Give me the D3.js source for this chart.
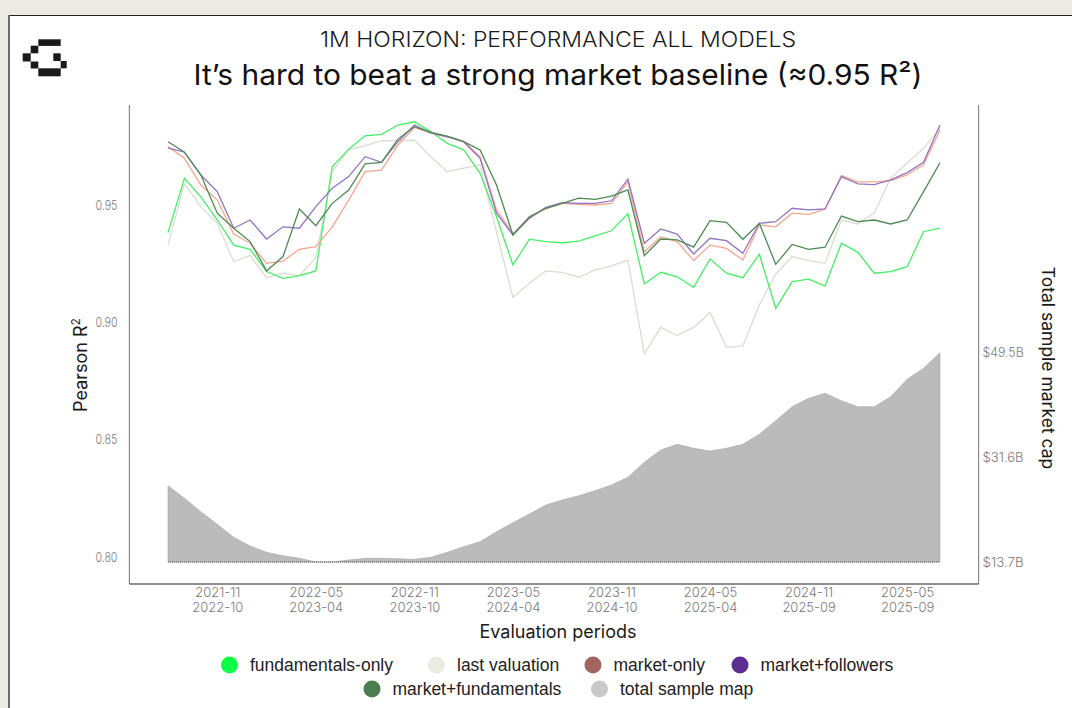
<!DOCTYPE html>
<html>
<head>
<meta charset="utf-8">
<script src="https://cdn.jsdelivr.net/npm/d3@7"></script>
<style>
  html, body { margin: 0; padding: 0; background: #EBEAE4; }
  svg { display: block; }
</style>
</head>
<body>
<svg id="chart" width="1072" height="708"></svg>
<script>
// ---------------- DATA ----------------
const periods = ["2021-08","2021-09","2021-10","2021-11","2021-12","2022-01","2022-02","2022-03","2022-04","2022-05","2022-06","2022-07",
  "2022-08","2022-09","2022-10","2022-11","2022-12","2023-01","2023-02","2023-03","2023-04","2023-05","2023-06","2023-07",
  "2023-08","2023-09","2023-10","2023-11","2023-12","2024-01","2024-02","2024-03","2024-04","2024-05","2024-06","2024-07",
  "2024-08","2024-09","2024-10","2024-11","2024-12","2025-01","2025-02","2025-03","2025-04","2025-05","2025-06","2025-07"];

const tickStarts = ["2021-11","2022-05","2022-11","2023-05","2023-11","2024-05","2024-11","2025-05"];
const tickEnds   = ["2022-10","2023-04","2023-10","2024-04","2024-10","2025-04","2025-09","2025-09"];

const fundamentalsOnly = [0.9382,0.9614,0.9535,0.9436,0.9329,0.9311,0.9216,0.9187,0.9199,0.9219,0.9663,0.9738,
  0.9795,0.9801,0.9841,0.9855,0.9813,0.9763,0.9735,0.9635,0.9450,0.9244,0.9354,0.9344,
  0.9339,0.9346,0.9368,0.9390,0.9462,0.9163,0.9213,0.9194,0.9149,0.9270,0.9209,0.9190,
  0.9290,0.9059,0.9173,0.9184,0.9155,0.9337,0.9298,0.9209,0.9216,0.9237,0.9386,0.9401];

const lastValuation = [0.9329,0.9590,0.9493,0.9422,0.9258,0.9284,0.9190,0.9209,0.9199,0.9275,0.9642,0.9735,
  0.9753,0.9774,0.9773,0.9777,0.9706,0.9642,0.9657,0.9671,0.9386,0.9106,0.9166,0.9219,
  0.9213,0.9192,0.9223,0.9240,0.9265,0.8865,0.8978,0.8943,0.8978,0.9042,0.8893,0.8899,
  0.9074,0.9206,0.9280,0.9263,0.9251,0.9436,0.9419,0.9467,0.9614,0.9679,0.9742,0.9828];

const marketOnly = [0.9749,0.9699,0.9585,0.9521,0.9376,0.9337,0.9251,0.9261,0.9311,0.9322,0.9407,0.9521,
  0.9642,0.9649,0.9756,0.9831,0.9806,0.9791,0.9770,0.9706,0.9479,0.9379,0.9448,0.9483,
  0.9507,0.9503,0.9500,0.9507,0.9599,0.9301,0.9365,0.9344,0.9263,0.9329,0.9315,0.9265,
  0.9415,0.9407,0.9465,0.9460,0.9482,0.9625,0.9599,0.9599,0.9604,0.9628,0.9671,0.9820];

const marketFollowers = [0.9744,0.9725,0.9628,0.9557,0.9401,0.9436,0.9355,0.9407,0.9401,0.9493,0.9571,0.9621,
  0.9706,0.9682,0.9770,0.9841,0.9808,0.9791,0.9770,0.9699,0.9465,0.9372,0.9443,0.9490,
  0.9510,0.9507,0.9507,0.9518,0.9610,0.9337,0.9398,0.9376,0.9291,0.9358,0.9348,0.9294,
  0.9422,0.9429,0.9486,0.9479,0.9483,0.9621,0.9590,0.9587,0.9607,0.9638,0.9682,0.9841];

const marketFundamentals = [0.9770,0.9725,0.9628,0.9465,0.9401,0.9344,0.9219,0.9280,0.9483,0.9412,0.9507,0.9564,
  0.9675,0.9682,0.9781,0.9834,0.9810,0.9794,0.9770,0.9735,0.9585,0.9372,0.9450,0.9486,
  0.9507,0.9529,0.9524,0.9538,0.9564,0.9284,0.9355,0.9351,0.9320,0.9433,0.9426,0.9354,
  0.9422,0.9247,0.9332,0.9311,0.9320,0.9453,0.9429,0.9436,0.9419,0.9436,0.9557,0.9680];

// total sample market cap, $B
const totalSampleCap = [26.75,24.6,22.3,20.15,17.92,16.44,15.36,14.78,14.33,13.7,13.7,14.04,
  14.33,14.33,14.26,14.16,14.5,15.36,16.32,17.17,18.88,20.42,21.91,23.45,
  24.3,25.04,25.9,26.87,28.19,30.75,32.86,33.83,33.15,32.69,33.15,33.83,
  35.54,37.87,40.26,41.7,42.55,41.29,40.26,40.26,41.97,44.95,46.83,49.5];

const leftTicks = [0.80, 0.85, 0.90, 0.95];
const rightTicks = [13.7, 31.6, 49.5];

const seriesNames = ["fundamentals-only","last valuation","market-only","market+followers","market+fundamentals","total sample map"];
const lineColors = {"fundamentals-only":"#45ef63","last valuation":"#dcdcd5","market-only":"#f7a68e","market+followers":"#9373c4","market+fundamentals":"#4c8b52"};
const legendColors = ["#0aff45","#ebebe4","#a2655f","#5c2e92","#4b7d51","#c9c9c9"];

// ---------------- CHART ----------------
const svg = d3.select("#chart");

// card
svg.append("rect").attr("x", 0).attr("y", 0).attr("width", 1072).attr("height", 708).attr("fill", "#EBEAE4");
svg.append("rect").attr("x", 9).attr("y", 15).attr("width", 1063).attr("height", 693).attr("fill", "#fff");
svg.append("line").attr("x1", 8).attr("x2", 1072).attr("y1", 15.5).attr("y2", 15.5).attr("stroke", "#222").attr("stroke-width", 1.2);
svg.append("line").attr("x1", 9).attr("x2", 9).attr("y1", 15).attr("y2", 708).attr("stroke", "#6a6a66").attr("stroke-width", 2);

// logo (pixel G)
const logo = svg.append("g").attr("fill", "#1a1a1a");
[[38.3,39.3,22.4,6.6],[30.7,45.7,7.6,7.6],[22.7,53.3,8,8.2],[53.3,53.3,7.4,7.7],[60.7,61,6,7.3],[30.7,61.5,7.6,7],[38.3,68.3,22.4,8]]
  .forEach(r => logo.append("rect").attr("x", r[0]).attr("y", r[1]).attr("width", r[2]).attr("height", r[3]));

// titles
svg.append("text").attr("x", 558).attr("y", 46.5).attr("text-anchor", "middle")
  .attr("font-family", "Inter, 'Noto Sans', sans-serif").attr("font-size", 21).attr("font-weight", 300).attr("fill", "#1a1a1a")
  .attr("textLength", 476).attr("lengthAdjust", "spacingAndGlyphs")
  .text("1M HORIZON: PERFORMANCE ALL MODELS");
svg.append("text").attr("x", 558).attr("y", 85).attr("text-anchor", "middle")
  .attr("font-family", "Inter, 'Noto Sans', sans-serif").attr("font-size", 29).attr("font-weight", 400).attr("fill", "#111")
  .attr("textLength", 729).attr("lengthAdjust", "spacingAndGlyphs")
  .text("It\u2019s hard to beat a strong market baseline (\u22480.95 R\u00B2)");

// scales
const idx = d3.range(periods.length);
const x = d3.scaleLinear().domain([-2.35, periods.length - 1 + 2.35]).range([129.4, 978.6]);
const y = d3.scaleLinear().domain([0.78838, 0.99264]).range([584, 105]);
const y2 = d3.scaleLinear().domain([13.7, 49.5]).range([562, 352.7]);

// area
const area = d3.area().x(i => x(i)).y0(y2(d3.min(totalSampleCap))).y1(i => y2(totalSampleCap[i]));
svg.append("path").datum(idx).attr("d", area).attr("fill", "#bbbbbb").attr("stroke", "#a8a8a8").attr("stroke-width", 0.6);
svg.append("line").attr("x1", x(0)).attr("x2", x(periods.length - 1))
  .attr("y1", y2(d3.min(totalSampleCap))).attr("y2", y2(d3.min(totalSampleCap)))
  .attr("stroke", "#555").attr("stroke-width", 1).attr("stroke-dasharray", "1,1");

// lines
const seriesData = [
  ["last valuation", lastValuation],
  ["fundamentals-only", fundamentalsOnly],
  ["market-only", marketOnly],
  ["market+followers", marketFollowers],
  ["market+fundamentals", marketFundamentals]
];
const line = d3.line().x((d, i) => x(i)).y(d => y(d));
seriesData.forEach(([name, vals]) => {
  svg.append("path").datum(vals).attr("d", line).attr("fill", "none")
    .attr("stroke", lineColors[name]).attr("stroke-width", 1.3).attr("stroke-linejoin", "miter");
});

// axes
const tickFont = "Inter, 'Noto Sans', sans-serif";
const yAxis = d3.axisLeft(y).tickValues(leftTicks).tickSize(0).tickPadding(12).tickFormat(d3.format(".2f"));
const gy = svg.append("g").attr("transform", "translate(129.4,0)").call(yAxis);
gy.select(".domain").remove();
gy.selectAll("text").attr("font-family", tickFont).attr("font-size", 13.5).attr("font-weight", 300).attr("fill", "#7a7a7a")
  .attr("textLength", 22).attr("lengthAdjust", "spacingAndGlyphs");
svg.append("line").attr("x1", 129.4).attr("x2", 129.4).attr("y1", 105).attr("y2", 584).attr("stroke", "#8a8a8a").attr("stroke-width", 1.2);

const y2Axis = d3.axisRight(y2).tickValues(rightTicks).tickSize(0).tickPadding(4).tickFormat(d => "$" + d3.format(".1f")(d) + "B");
const gy2 = svg.append("g").attr("transform", "translate(978.6,0)").call(y2Axis);
gy2.select(".domain").remove();
gy2.selectAll("text").attr("font-family", tickFont).attr("font-size", 13).attr("font-weight", 300).attr("fill", "#7a7a7a")
  .attr("textLength", 41).attr("lengthAdjust", "spacingAndGlyphs");
svg.append("line").attr("x1", 978.6).attr("x2", 978.6).attr("y1", 105).attr("y2", 584).attr("stroke", "#8a8a8a").attr("stroke-width", 1.2);

const tickIdx = tickStarts.map(s => periods.indexOf(s));
const xAxis = d3.axisBottom(x).tickValues(tickIdx).tickSize(0).tickPadding(0).tickFormat(() => "");
const gx = svg.append("g").attr("transform", "translate(0,584)").call(xAxis);
gx.select(".domain").remove();
gx.selectAll(".tick").each(function(d, k) {
  const g = d3.select(this);
  g.select("text").remove();
  [[tickStarts[k], 13], [tickEnds[k], 28]].forEach(([s, yy]) => {
    g.append("text").attr("x", 0).attr("y", yy).attr("text-anchor", "middle")
      .attr("font-family", tickFont).attr("font-size", 13).attr("font-weight", 300).attr("fill", "#7a7a7a").text(s);
  });
});
svg.append("line").attr("x1", 129.4).attr("x2", 978.6).attr("y1", 584).attr("y2", 584).attr("stroke", "#222").attr("stroke-width", 1.2);

// axis labels
svg.append("text").attr("x", 558).attr("y", 638).attr("text-anchor", "middle")
  .attr("font-family", tickFont).attr("font-size", 18).attr("fill", "#1a1a1a").text("Evaluation periods");
const yl = svg.append("text").attr("transform", "translate(87,365) rotate(-90)").attr("text-anchor", "middle")
  .attr("font-family", tickFont).attr("font-size", 18).attr("fill", "#1a1a1a");
yl.append("tspan").text("Pearson R");
yl.append("tspan").attr("font-size", 12).attr("dy", -7).text("2");
svg.append("text").attr("transform", "translate(1042,368) rotate(90)").attr("text-anchor", "middle")
  .attr("font-family", tickFont).attr("font-size", 17.5).attr("fill", "#1a1a1a").text("Total sample market cap");

// legend
const legendPos = [[229.5,665],[436.5,665],[593,665],[740,665],[372,689],[599.5,689]];
const leg = svg.append("g");
seriesNames.forEach((name, k) => {
  const [cx, cy] = legendPos[k];
  leg.append("circle").attr("cx", cx).attr("cy", cy).attr("r", 8.5).attr("fill", legendColors[k]);
  leg.append("text").attr("x", cx + 20.5).attr("y", cy + 6).attr("font-family", "'Liberation Sans', Arial, sans-serif")
    .attr("font-size", 17.5).attr("fill", "#222").text(name);
});
</script>
</body>
</html>
